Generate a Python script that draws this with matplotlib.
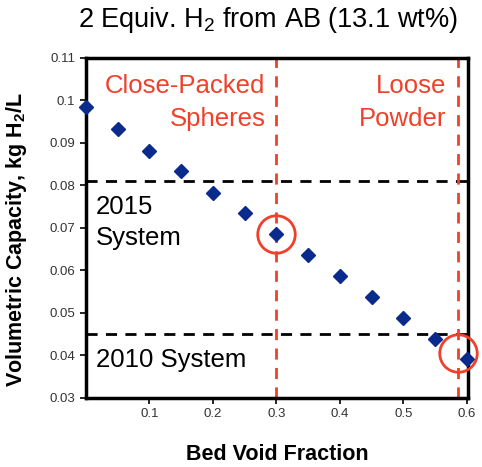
import matplotlib
matplotlib.use("Agg")
import matplotlib.pyplot as plt

# bed void fraction vs volumetric H2 capacity
void_frac = [0.0, 0.05, 0.10, 0.15, 0.20, 0.25, 0.30, 0.35, 0.40, 0.45, 0.50, 0.55, 0.60]
capacity = [0.0985, 0.0933, 0.0882, 0.0833, 0.0783, 0.0736, 0.0686, 0.0636, 0.0587, 0.0537, 0.0488, 0.0438, 0.0392]

target_2015 = 0.081
target_2010 = 0.045
packing_lines = [0.30, 0.587]          # close-packed spheres, loose powder
circled = [(0.30, 0.0686), (0.587, 0.0405)]

xticks = [0.1, 0.2, 0.3, 0.4, 0.5, 0.6]
yticks = [0.03, 0.04, 0.05, 0.06, 0.07, 0.08, 0.09, 0.10, 0.11]
ytick_labels = ["0.03", "0.04", "0.05", "0.06", "0.07", "0.08", "0.09", "0.1", "0.11"]

RED = "#f0402a"
BLUE = "#0a2a8c"

plt.rcParams["font.family"] = ["Liberation Sans", "DejaVu Sans"]
plt.rcParams["mathtext.fontset"] = "custom"
plt.rcParams["mathtext.rm"] = "Liberation Sans"
plt.rcParams["mathtext.bf"] = "Liberation Sans:bold"
fig = plt.figure(figsize=(4.82, 4.67), dpi=100)
ax = fig.add_axes([0.178, 0.148, 0.793, 0.728])

ax.axhline(target_2015, color="black", ls=(0, (4, 3)), lw=2)
ax.axhline(target_2010, color="black", ls=(0, (4, 3)), lw=2)
for xv in packing_lines:
    ax.axvline(xv, color=RED, ls=(0, (4, 3)), lw=2)

ax.plot(void_frac, capacity, "D", color=BLUE, ms=7.5, clip_on=False, zorder=5)
for cx, cy in circled:
    ax.plot(cx, cy, "o", ms=27, mfc="none", mec=RED, mew=2, clip_on=False, zorder=6)

ax.text(0.283, 0.1062, "Close-Packed\nSpheres", color=RED, fontsize=18.5,
        ha="right", va="top", linespacing=1.45)
ax.text(0.568, 0.1062, "Loose\nPowder", color=RED, fontsize=18.5,
        ha="right", va="top", linespacing=1.45)
ax.text(0.016, 0.0778, "2015\nSystem", color="black", fontsize=18.5,
        ha="left", va="top", linespacing=1.4)
ax.text(0.016, 0.0390, "2010 System", color="black", fontsize=18.5,
        ha="left", va="center")

ax.set_xlim(0, 0.602)
ax.set_ylim(0.03, 0.11)
ax.set_xticks(xticks)
ax.set_xticklabels([f"{t:g}" for t in xticks])
ax.set_yticks(yticks)
ax.set_yticklabels(ytick_labels)
ax.tick_params(labelsize=9.5, length=4, width=1.2, colors="black", labelcolor="#333333")
for s in ax.spines.values():
    s.set_linewidth(2.5)

ax.set_xlabel("Bed Void Fraction", fontsize=15.5, fontweight="bold", va="center")
ax.xaxis.set_label_coords(0.5, -0.168)
ax.set_ylabel("Volumetric Capacity, kg H$_\\mathbf{2}$/L", fontsize=15.5,
              fontweight="bold", va="center")
ax.yaxis.set_label_coords(-0.18, 0.465)
fig.text(0.556, 0.957, "2 Equiv. H$_2$ from AB (13.1 wt%)", fontsize=19.5,
         ha="center", va="center")

fig.savefig("out.png", dpi=100)
